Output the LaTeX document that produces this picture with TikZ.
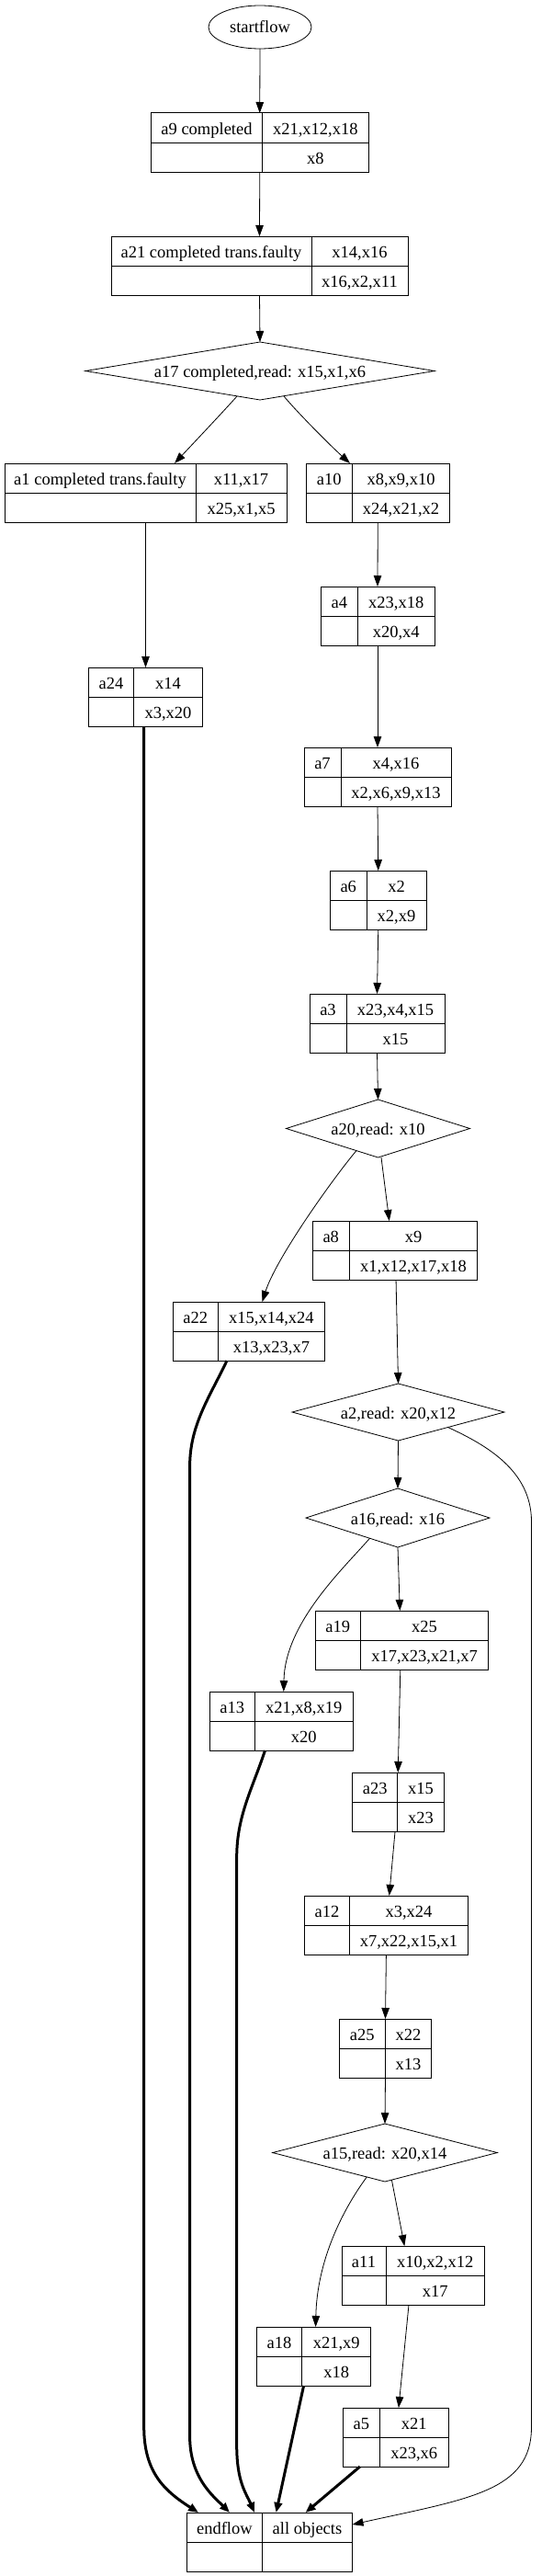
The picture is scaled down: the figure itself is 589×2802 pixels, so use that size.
\documentclass[tikz,border=0pt]{standalone}
\usepackage{fontspec}
\setmainfont{Liberation Serif}
\usetikzlibrary{shapes.geometric,arrows.meta,calc}
\tikzset{
  recbox/.style={draw, line width=1pt, rectangle, minimum height=64pt, inner sep=0pt, outer sep=0pt},
  recline/.style={line width=1pt},
  celltext/.style={anchor=base, inner sep=0pt, font=\fontsize{18.5}{21}\selectfont},
  decision/.style={draw, diamond, line width=0.8pt, inner sep=0pt, outer sep=0pt, text height=14pt, text depth=0pt, font=\fontsize{18.5}{21}\selectfont},
  startnode/.style={draw, ellipse, line width=0.8pt, inner sep=0pt, outer sep=0pt, minimum width=112pt, minimum height=47pt, text height=13pt, text depth=0pt, font=\fontsize{18.5}{21}\selectfont},
  flow/.style={line width=0.8pt, -{Triangle[length=12pt,width=8.5pt]}},
  flowthick/.style={line width=3pt, line cap=butt, -{Triangle[length=11pt,width=8.5pt]}},
}
% name, x left, y top, left width, right width, left text, right top, right bottom
\newcommand{\recnode}[8]{%
  \pgfmathsetmacro{\recw}{#4+#5}%
  \node[recbox, minimum width=\recw pt] (#1) at ({#2+\recw/2},{#3+32}) {};
  \draw[recline] ({#2+#4},#3) -- ({#2+#4},{#3+64});
  \draw[recline] (#2,{#3+32}) -- ({#2+\recw},{#3+32});
  \node[celltext] (#1-l) at ({#2+#4/2},{#3+23.5}) {#6};
  \node[celltext] (#1-t) at ({#2+#4+#5/2},{#3+23.5}) {#7};
  \node[celltext] (#1-b) at ({#2+#4+#5/2},{#3+55.5}) {#8};
}
\begin{document}
\begin{tikzpicture}[x=1pt,y=-1pt]
\useasboundingbox (0,0) rectangle (589,2802);

\node[startnode] (startflow) at (283,29.5) {startflow};

\recnode{a9}{164.5}{123}{121}{115.5}{a9 completed}{x21,x12,x18}{x8}
\recnode{a21}{121}{257}{218}{105}{a21 completed trans.faulty}{x14,x16}{x16,x2,x11}
\node[decision, minimum width=380pt, minimum height=63pt, aspect=6] (a17) at (283,403.5) {a17 completed,read: x15,x1,x6};
\recnode{a1}{5}{504}{208}{99}{a1 completed trans.faulty}{x11,x17}{x25,x1,x5}
\recnode{a10}{333}{504}{50.5}{106}{a10}{x8,x9,x10}{x24,x21,x2}
\recnode{a24}{96.5}{726}{49}{75}{a24}{x14}{x3,x20}
\recnode{a4}{349}{638}{40.6}{83.4}{a4}{x23,x18}{x20,x4}
\recnode{a7}{331}{813}{40}{120}{a7}{x4,x16}{x2,x6,x9,x13}
\recnode{a6}{359.5}{947}{39.5}{65}{a6}{x2}{x2,x9}
\recnode{a3}{337}{1081}{40}{107}{a3}{x23,x4,x15}{x15}
\node[decision, minimum width=200pt, minimum height=63pt, aspect=3.2] (a20) at (411.5,1227.5) {a20,read: x10};
\recnode{a8}{340}{1328}{40.5}{139}{a8}{x9}{x1,x12,x17,x18}
\recnode{a22}{188}{1416}{49.4}{116}{a22}{x15,x14,x24}{x13,x23,x7}
\node[decision, minimum width=231pt, minimum height=62pt, aspect=3.7] (a2) at (433.5,1536) {a2,read: x20,x12};
\node[decision, minimum width=200pt, minimum height=64pt, aspect=3.1] (a16) at (433,1651) {a16,read: x16};
\recnode{a19}{343}{1752}{49.6}{139}{a19}{x25}{x17,x23,x21,x7}
\recnode{a13}{228.4}{1840}{48.8}{107}{a13}{x21,x8,x19}{x20}
\recnode{a23}{383.5}{1928}{49.3}{50.2}{a23}{x15}{x23}
\recnode{a12}{331.3}{2062}{49.2}{129}{a12}{x3,x24}{x7,x22,x15,x1}
\recnode{a25}{369.3}{2196}{50}{50.4}{a25}{x22}{x13}
\node[decision, minimum width=244.5pt, minimum height=63pt, aspect=3.9] (a15) at (419,2341.5) {a15,read: x20,x14};
\recnode{a11}{372}{2443}{48}{107.4}{a11}{x10,x2,x12}{x17}
\recnode{a18}{279.5}{2531}{49.2}{75}{a18}{x21,x9}{x18}
\recnode{a5}{373.4}{2619}{39.8}{75.2}{a5}{x21}{x23,x6}
\recnode{endflow}{203.2}{2733}{82.3}{98}{endflow}{all objects}{}

% thin connectors
\draw[flow] (startflow.south) -- (a9.north);
\draw[flow] (a9.south) -- (a21.north);
\draw[flow] (a21.south) -- (a17.north);
\draw[flow] ($(a17.center)+(-25,27.5)$) .. controls (240,451) and (205,488) .. ($(a1.north)+(31.5,0)$);
\draw[flow] ($(a17.center)+(26,27.5)$) .. controls (325,450) and (360,485) .. ($(a10.north)+(-30.25,0)$);
\draw[flow] (a1.south) -- (a24.north);
\draw[flow] (a10.south) -- (a4.north);
\draw[flow] (a4.south) -- (a7.north);
\draw[flow] (a7.south) -- (a6.north);
\draw[flow] (a6.south) -- (a3.north);
\draw[flow] (a3.south) -- (a20.north);
\draw[flow] ($(a20.center)+(-23.5,24)$) .. controls (360,1285) and (300,1370) .. ($(a22.north)+(14.8,0)$);
\draw[flow] ($(a20.south)+(3.5,0)$) -- ($(a8.north)+(-6,0)$);
\draw[flow] ($(a8.south)+(1.3,0)$) -- (a2.north);
\draw[flow] (a2.south) -- (a16.north);
\draw[flow] ($(a2.center)+(54.1,16.5)$) .. controls (530,1572) and (578.5,1600) .. (578.5,1655)
   -- (578.5,2640) .. controls (578.5,2710) and (510,2718) .. ($(endflow.east)+(0,-19)$);
\draw[flow] ($(a16.center)+(-30.3,22)$) .. controls (375,1705) and (310,1765) .. ($(a13.north)+(2.5,0)$);
\draw[flow] (a16.south) -- ($(a19.north)+(-2,0)$);
\draw[flow] ($(a19.south)+(-1.5,0)$) -- (a23.north);
\draw[flow] ($(a23.south)+(-3.2,0)$) -- ($(a12.north)+(3.3,0)$);
\draw[flow] (a12.south) -- (a25.north);
\draw[flow] (a25.south) -- (a15.north);
\draw[flow] ($(a15.center)+(7.4,29.6)$) -- ($(a11.north)+(-9.4,0)$);
\draw[flow] ($(a15.center)+(-19.7,26.4)$) .. controls (372,2405) and (345,2460) .. ($(a18.north)+(2,0)$);
\draw[flow] ($(a11.south)+(-4.7,0)$) -- ($(a5.north)+(3,0)$);

% thick connectors into endflow
\draw[flowthick] ($(a24.south)+(-1.8,0)$) -- (156.7,2640) .. controls (156.7,2690) and (180,2710) .. ($(endflow.north)+(-77.3,0)$);
\draw[flowthick] ($(a22.south)+(-23.7,0)$) .. controls (228,1520) and (206.6,1550) .. (206.6,1595)
   -- (206.6,2650) .. controls (206.6,2695) and (232,2715) .. ($(endflow.north)+(-43.3,0)$);
\draw[flowthick] ($(a13.south)+(-17.8,0)$) .. controls (275,1945) and (257.7,1975) .. (257.7,2020)
   -- (257.7,2660) .. controls (257.7,2700) and (268,2712) .. ($(endflow.north)+(-16.3,0)$);
\draw[flowthick] ($(a18.south)+(-11,0)$) -- ($(endflow.north)+(7.2,0)$);
\draw[flowthick] ($(a5.south)+(-39.1,0)$) -- ($(endflow.north)+(39.2,0)$);
\end{tikzpicture}
\end{document}
